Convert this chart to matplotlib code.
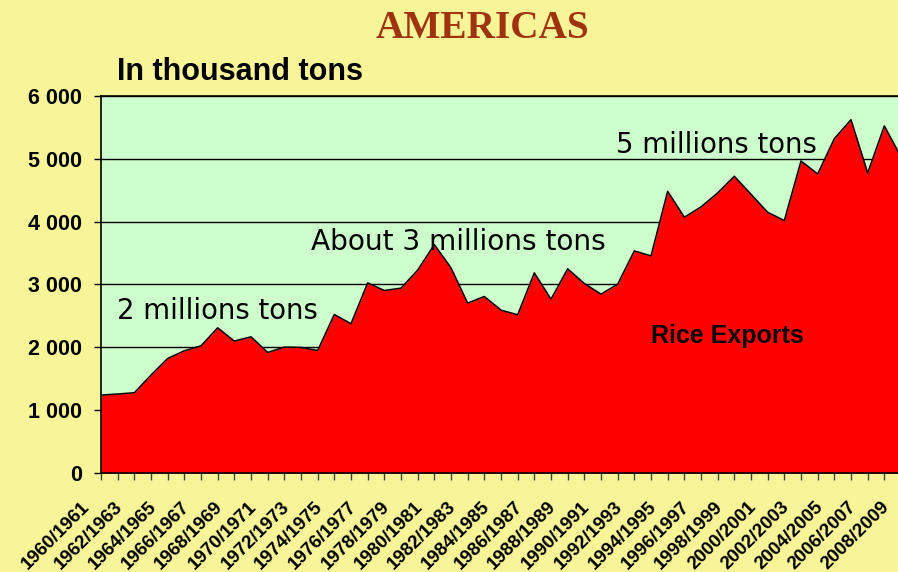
import matplotlib
matplotlib.use("Agg")
import matplotlib.pyplot as plt
from matplotlib.ticker import FixedLocator, FuncFormatter
import matplotlib.transforms as mtransforms

seasons = [f"{y}/{y+1}" for y in range(1960, 2009)]
exports = [1243, 1260, 1280, 1561, 1825, 1947, 2026, 2312, 2101, 2169,
           1921, 2005, 2000, 1952, 2524, 2376, 3026, 2905, 2942, 3228,
           3635, 3265, 2704, 2810, 2593, 2519, 3185, 2767, 3249, 3016,
           2847, 3005, 3534, 3455, 4481, 4069, 4233, 4455, 4720, 4434,
           4148, 4016, 4963, 4757, 5317, 5619, 4772, 5519, 5030]
y_ticks = [0, 1000, 2000, 3000, 4000, 5000, 6000]

W, H = 898, 572
fig = plt.figure(figsize=(W / 100, H / 100), dpi=100)
bg = "#F7F597"
fig.patch.set_facecolor(bg)

left, right, top, bottom = 101.0, 901.0, 95.7, 473.3
ax = fig.add_axes([left / W, 1 - bottom / H, (right - left) / W, (bottom - top) / H])
ax.set_facecolor("#CCFFCC")

x = list(range(len(exports)))
ax.fill_between(x, exports, 0, color="#FF0000", zorder=3, linewidth=0)
ax.plot(x, exports, color="black", linewidth=1.1, zorder=4)

ax.set_xlim(0, len(exports) - 1)
ax.set_ylim(0, 6000)
ax.yaxis.set_major_locator(FixedLocator(y_ticks))
ax.yaxis.set_major_formatter(FuncFormatter(lambda v, p: "0" if v == 0 else f"{int(v)//1000} 000"))
ax.grid(axis="y", color="black", linewidth=1.0, zorder=2)
ax.set_axisbelow(False)

ax.set_xticks(x)
ax.set_xticklabels([s if i % 2 == 0 else "" for i, s in enumerate(seasons)],
                   rotation=45, ha="right", fontsize=13.5, fontweight="bold",
                   family="Liberation Sans")
ax.tick_params(axis="x", direction="out", length=5, width=1, pad=13, color="#444444")
ax.tick_params(axis="y", direction="out", length=5, width=1, pad=8.5)
for lab in ax.get_yticklabels():
    lab.set_fontsize(15.5)
    lab.set_fontweight("bold")
    lab.set_family("Liberation Sans")

offset = mtransforms.ScaledTranslation(-8 / 100, 0, fig.dpi_scale_trans)
for lab in ax.get_xticklabels():
    lab.set_transform(lab.get_transform() + offset)

for s in ["left", "bottom", "top"]:
    ax.spines[s].set_color("black")
    ax.spines[s].set_linewidth(1.2)
    ax.spines[s].set_zorder(5)
ax.spines["right"].set_visible(False)

fig.text(482 / W, 1 - 28 / H, "AMERICAS", ha="center", va="center",
         family="Liberation Serif", fontweight="bold", fontsize=28.3, color="#A0330F")
fig.text(117 / W, 1 - 80 / H, "In thousand tons", ha="left", va="baseline",
         family="Liberation Sans", fontweight="bold", fontsize=22, color="black")

def ann(px, py, s, **kw):
    fig.text(px / W, 1 - py / H, s, ha="left", va="baseline", zorder=10, **kw)

ann(117, 319, "2 millions tons", family="DejaVu Sans", fontsize=19.8)
ann(311, 250, "About 3 millions tons", family="DejaVu Sans", fontsize=20.2)
ann(616, 152.5, "5 millions tons", family="DejaVu Sans", fontsize=19.8)
ann(651, 343, "Rice Exports", family="Liberation Sans", fontweight="bold", fontsize=18)

fig.savefig("out.png", dpi=100, facecolor=bg)
